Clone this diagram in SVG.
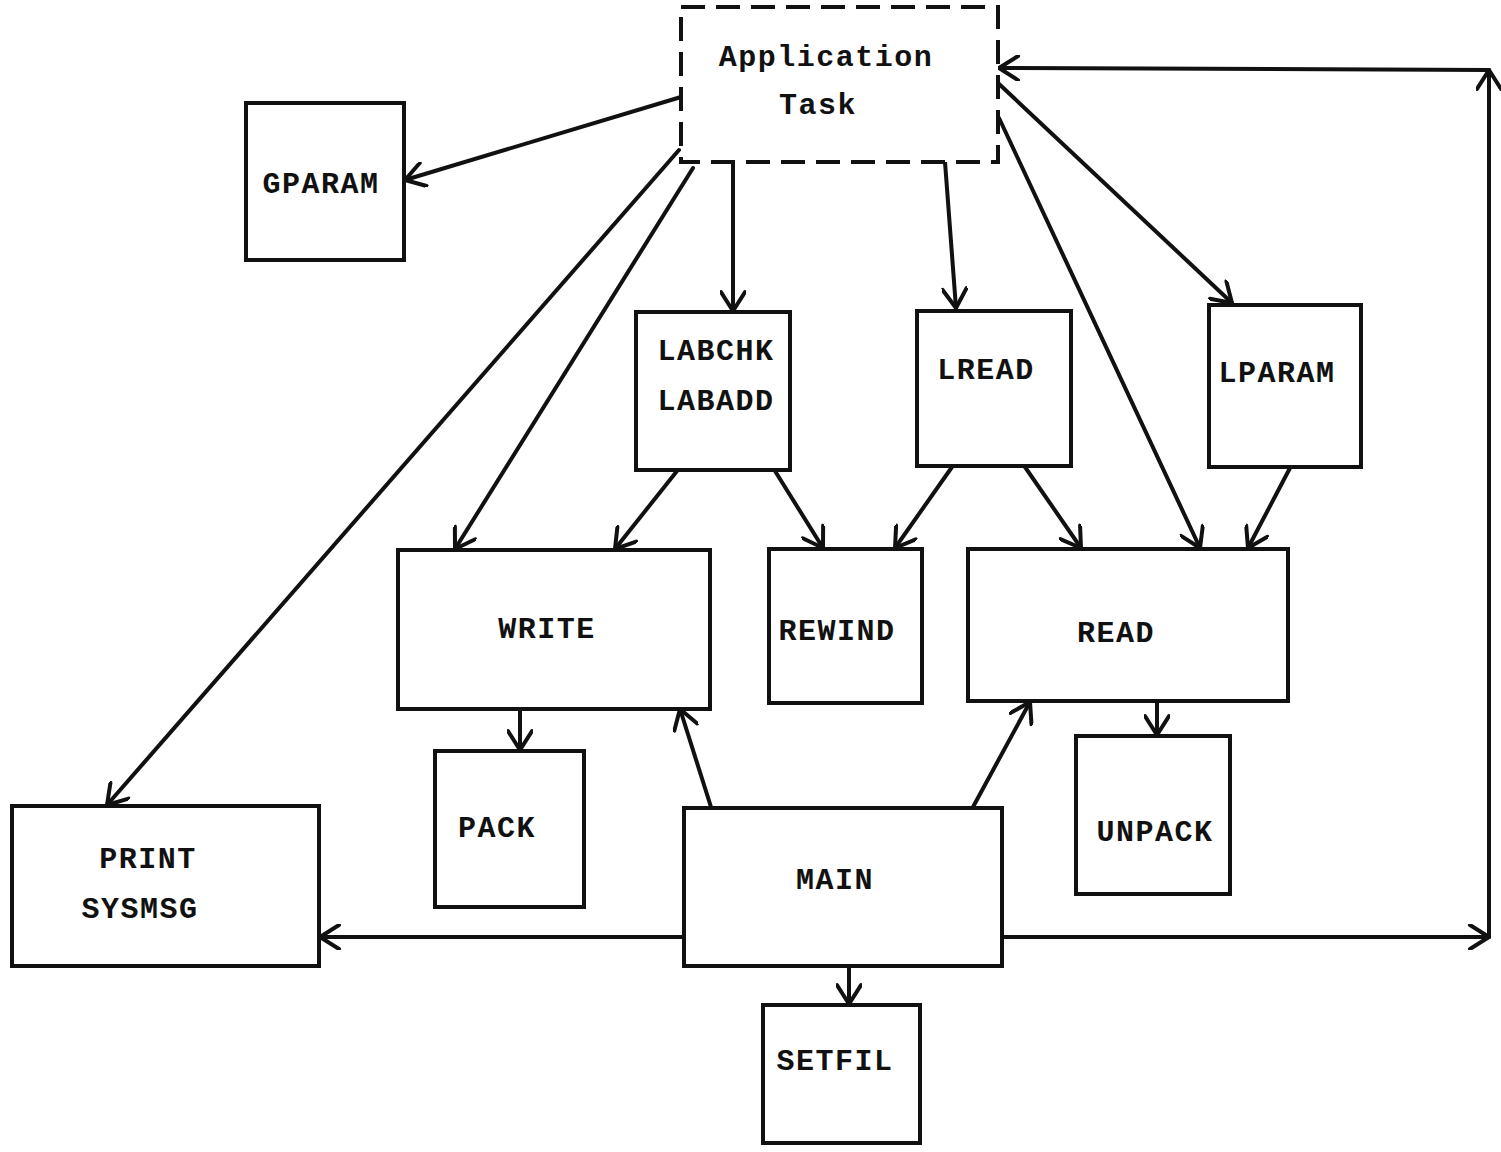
<svg xmlns="http://www.w3.org/2000/svg" width="1501" height="1152" viewBox="0 0 1501 1152">
<style>
.box{fill:#fff;stroke:#111;stroke-width:4;stroke-linejoin:miter}
.dash{stroke-dasharray:24,11}
.lbl{font-family:"Liberation Mono","Courier New",monospace;font-size:30px;font-weight:bold;letter-spacing:1.5px;fill:#111;text-anchor:middle}
.con{fill:none;stroke:#111;stroke-width:4;stroke-linecap:round;marker-end:url(#ah)}
</style>
<defs>
<marker id="ah" viewBox="0 0 26 26" refX="24" refY="13" markerWidth="26" markerHeight="26" markerUnits="userSpaceOnUse" orient="auto">
<path d="M5,1 L24,13 L5,25" fill="none" stroke="#111" stroke-width="4" stroke-linecap="round" stroke-linejoin="round"/>
</marker>
</defs>
<rect width="1501" height="1152" fill="#fff"/>
<g id="connectors">
<line class="con" x1="681" y1="97" x2="405" y2="180"/>
<line class="con" x1="679" y1="150" x2="107" y2="805"/>
<line class="con" x1="693" y1="168" x2="455" y2="549"/>
<line class="con" x1="733" y1="162" x2="733" y2="311"/>
<line class="con" x1="945" y1="162" x2="956" y2="308"/>
<line class="con" x1="998" y1="83" x2="1232" y2="303"/>
<line class="con" x1="999" y1="118" x2="1200" y2="548"/>
<line class="con" x1="677" y1="471" x2="615" y2="549"/>
<line class="con" x1="775" y1="471" x2="823" y2="548"/>
<line class="con" x1="952" y1="467" x2="895" y2="548"/>
<line class="con" x1="1025" y1="467" x2="1081" y2="548"/>
<line class="con" x1="1290" y1="468" x2="1248" y2="548"/>
<line class="con" x1="520" y1="710" x2="520" y2="750"/>
<line class="con" x1="1157" y1="702" x2="1157" y2="735"/>
<line class="con" x1="711" y1="807" x2="680" y2="709"/>
<line class="con" x1="973" y1="807" x2="1030" y2="702"/>
<line class="con" x1="684" y1="937" x2="320" y2="937"/>
<line class="con" x1="849" y1="967" x2="849" y2="1004"/>
<line class="con" x1="1002" y1="937" x2="1489" y2="937"/>
<line class="con" x1="1489" y1="937" x2="1489" y2="70"/>
<line class="con" x1="1489" y1="70" x2="999" y2="68"/>
</g>
<g id="app-task">
<rect class="box dash" x="681" y="7" width="317" height="155"/>
<text class="lbl" x="826" y="66">Application</text>
<text class="lbl" x="818" y="114">Task</text>
</g>
<g id="gparam">
<rect class="box" x="246" y="103" width="158" height="157"/>
<text class="lbl" x="321" y="193">GPARAM</text>
</g>
<g id="labchk">
<rect class="box" x="636" y="312" width="154" height="158"/>
<text class="lbl" x="716" y="360">LABCHK</text>
<text class="lbl" x="716" y="410">LABADD</text>
</g>
<g id="lread">
<rect class="box" x="917" y="311" width="154" height="155"/>
<text class="lbl" x="986" y="379">LREAD</text>
</g>
<g id="lparam">
<rect class="box" x="1209" y="305" width="152" height="162"/>
<text class="lbl" x="1277" y="382">LPARAM</text>
</g>
<g id="write">
<rect class="box" x="398" y="550" width="312" height="159"/>
<text class="lbl" x="547" y="638">WRITE</text>
</g>
<g id="rewind">
<rect class="box" x="769" y="549" width="153" height="154"/>
<text class="lbl" x="837" y="640">REWIND</text>
</g>
<g id="read">
<rect class="box" x="968" y="549" width="320" height="152"/>
<text class="lbl" x="1116" y="642">READ</text>
</g>
<g id="pack">
<rect class="box" x="435" y="751" width="149" height="156"/>
<text class="lbl" x="497" y="837">PACK</text>
</g>
<g id="main">
<rect class="box" x="684" y="808" width="318" height="158"/>
<text class="lbl" x="835" y="889">MAIN</text>
</g>
<g id="unpack">
<rect class="box" x="1076" y="736" width="154" height="158"/>
<text class="lbl" x="1155" y="841">UNPACK</text>
</g>
<g id="print">
<rect class="box" x="12" y="806" width="307" height="160"/>
<text class="lbl" x="148" y="868">PRINT</text>
<text class="lbl" x="140" y="918">SYSMSG</text>
</g>
<g id="setfil">
<rect class="box" x="763" y="1005" width="157" height="138"/>
<text class="lbl" x="835" y="1070">SETFIL</text>
</g>
</svg>
